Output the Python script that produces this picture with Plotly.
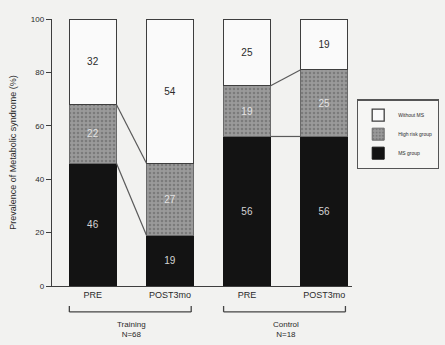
import plotly.graph_objects as go

# Stacked prevalence (%) per time point
categories = ["PRE", "POST3mo", "PRE", "POST3mo"]
ms_group = [46, 19, 56, 56]
high_risk = [22, 27, 19, 25]
without_ms = [32, 54, 25, 19]
groups = ["Training<br>N=68", "Control<br>N=18"]
y_ticks = [0, 20, 40, 60, 80, 100]

x = list(range(len(categories)))
bar_w = 0.61
font = "Liberation Sans, Arial, sans-serif"
edge = "#3e3e3e"

fig = go.Figure()

fig.add_trace(go.Bar(
    x=x, y=ms_group, name="MS group", width=bar_w,
    marker=dict(color="#131313", line=dict(color="#131313", width=1)),
    text=[str(v) for v in ms_group], textposition="inside", insidetextanchor="middle",
    textfont=dict(color="#d4d4d4", size=10, family=font),
))
fig.add_trace(go.Bar(
    x=x, y=high_risk, name="High risk group", width=bar_w,
    marker=dict(color="#8e8e8e", line=dict(color="#6a6a6a", width=1),
                pattern=dict(shape=".", fgcolor="#5c5c5c", bgcolor="#9a9a9a", size=4, solidity=0.35)),
    text=[str(v) for v in high_risk], textposition="inside", insidetextanchor="middle",
    textfont=dict(color="#e2e2e2", size=10, family=font),
))
fig.add_trace(go.Bar(
    x=x, y=without_ms, name="Without MS", width=bar_w,
    marker=dict(color="#fafafa", line=dict(color=edge, width=1.3)),
    text=[str(v) for v in without_ms], textposition="inside", insidetextanchor="middle",
    textfont=dict(color="#2a2a2a", size=10, family=font),
))

# Connector lines between PRE and POST3mo bars within each group
for a, b in [(0, 1), (2, 3)]:
    for level_a, level_b in [(ms_group[a], ms_group[b]),
                             (ms_group[a] + high_risk[a], ms_group[b] + high_risk[b])]:
        fig.add_trace(go.Scatter(
            x=[a + bar_w / 2, b - bar_w / 2], y=[level_a, level_b],
            mode="lines", line=dict(color="#5a5a5a", width=1.2),
            showlegend=False, hoverinfo="skip",
        ))

# Group brackets under the category labels
shapes = []
for a, b in [(0, 1), (2, 3)]:
    x0, x1 = a - bar_w / 2, b + bar_w / 2 - 0.03
    shapes.append(dict(type="line", xref="x", yref="paper", x0=x0, x1=x1, y0=-0.097, y1=-0.097,
                       line=dict(color="#444", width=1.3)))
    for xe in (x0, x1):
        shapes.append(dict(type="line", xref="x", yref="paper", x0=xe, x1=xe, y0=-0.097, y1=-0.075,
                           line=dict(color="#444", width=1.3)))

annotations = []
for i, (a, b) in enumerate([(0, 1), (2, 3)]):
    annotations.append(dict(x=(a + b) / 2, y=-0.12, xref="x", yref="paper", text=groups[i],
                            showarrow=False, yanchor="top",
                            font=dict(size=8, color="#2a2a2a", family=font)))

fig.update_layout(
    barmode="stack",
    width=445, height=345,
    margin=dict(l=52, r=93, t=19, b=59, autoexpand=False),
    paper_bgcolor="#f2f2f0", plot_bgcolor="#f2f2f0",
    shapes=shapes, annotations=annotations,
    font=dict(family=font, color="#2a2a2a"),
    legend=dict(
        xref="container", yref="container",
        x=0.802, y=0.712, xanchor="left", yanchor="top",
        traceorder="reversed",
        bgcolor="#f6f6f4", bordercolor="#555", borderwidth=1.3,
        font=dict(size=5, color="#2a2a2a", family=font),
        itemwidth=30,
    ),
    xaxis=dict(
        range=[-0.53, 3.36], tickmode="array", tickvals=x, ticktext=categories,
        showline=True, linecolor=edge, linewidth=1.4, ticks="", showgrid=False,
        zeroline=False, tickfont=dict(size=9, color="#2a2a2a"),
    ),
    yaxis=dict(
        range=[0, 100], tickvals=y_ticks, showline=True, linecolor=edge, linewidth=1.4,
        ticks="outside", ticklen=5, tickcolor=edge, showgrid=False, zeroline=False,
        tickfont=dict(size=8, color="#2a2a2a"),
        title=dict(text="Prevalence of Metabolic syndrome (%)", font=dict(size=9, color="#2a2a2a"),
                   standoff=12),
    ),
)

fig.write_html("out.html")
